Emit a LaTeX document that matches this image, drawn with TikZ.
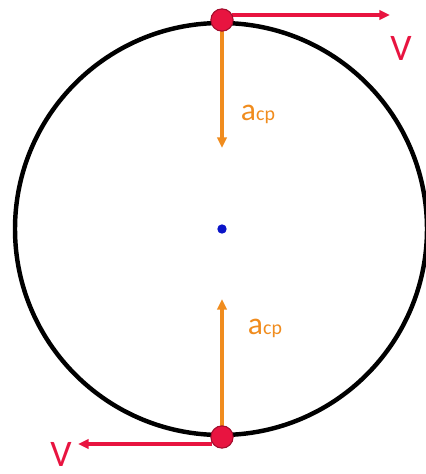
\documentclass[tikz,border=0pt]{standalone}
\usepackage{fontspec}
\setmainfont{Carlito}
\usetikzlibrary{arrows.meta}

\definecolor{velred}{RGB}{232,20,64}
\definecolor{accorange}{RGB}{240,140,30}
\definecolor{dotblue}{RGB}{10,20,200}

\begin{document}
\begin{tikzpicture}[
  x=0.03cm, y=-0.03cm,
  >={Triangle[length=9pt,width=8pt]},
  vel/.style={->, velred, line width=2.8pt},
  acc/.style={->, accorange, line width=2.8pt},
  body/.style={circle, draw=velred!70!black, fill=velred, line width=0.9pt, minimum size=19pt, inner sep=0pt},
  vlab/.style={text=velred, font=\fontsize{32}{34}\selectfont, inner sep=0pt},
  alab/.style={text=accorange, font=\fontsize{27}{30}\selectfont, inner sep=0pt}
]
\useasboundingbox (0,0) rectangle (426,474);

% circular path and centre
\draw[line width=3.8pt] (221,229) circle (206);
\node[circle, fill=dotblue, minimum size=8pt, inner sep=0pt] (centre) at (222,229) {};

% top of the loop
\coordinate (vtopend) at (390,15);
\coordinate (atopend) at (222,148);
\draw[vel] (232,15) -- (vtopend);
\draw[acc] (222,30) -- (atopend);
\node[body] (top) at (222,20) {};
\node[vlab] (vtop) at (401,48) {V};
\node[alab] (atop) at (258,114) {a{\fontsize{17}{20}\selectfont cp}};

% bottom of the loop
\coordinate (vbotend) at (78,444);
\coordinate (abotend) at (222,299);
\draw[vel] (212,444) -- (vbotend);
\draw[acc] (222,427) -- (abotend);
\node[body] (bottom) at (222,437) {};
\node[vlab] (vbot) at (61,454) {V};
\node[alab] (abot) at (265,328) {a{\fontsize{17}{20}\selectfont cp}};
\end{tikzpicture}
\end{document}
